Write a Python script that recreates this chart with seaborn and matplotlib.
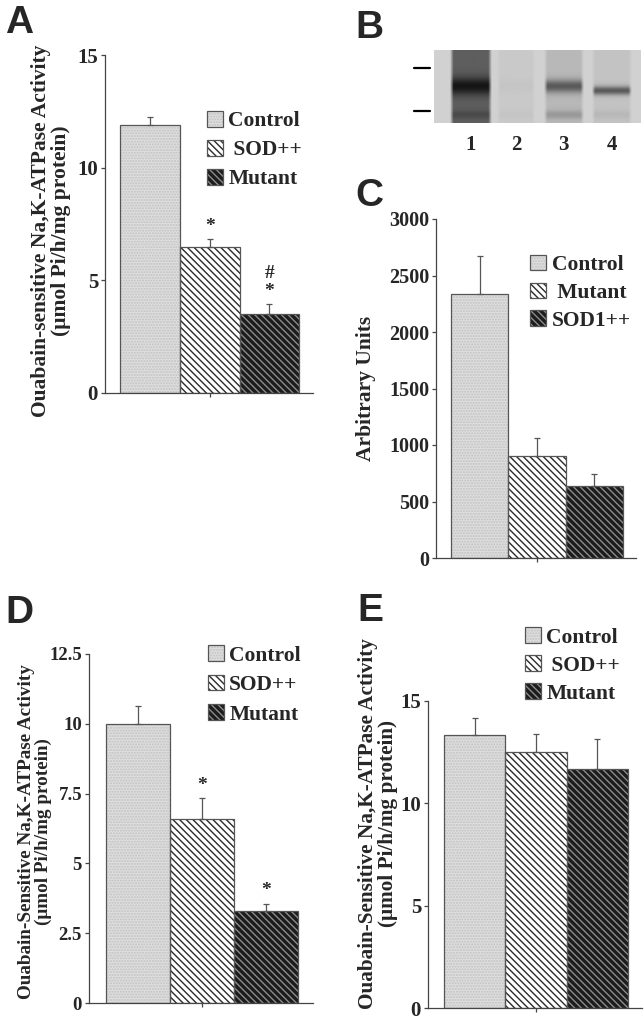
import numpy as np
import pandas as pd
import matplotlib
matplotlib.use('Agg')
import matplotlib.pyplot as plt
import seaborn as sns
from matplotlib.patches import Patch, Rectangle

# Panel A: Na,K-ATPase activity
a_groups = ['Control', ' SOD++', 'Mutant']
a_means = [11.9, 6.47, 3.49]
a_sem = [0.35, 0.35, 0.45]
a_marks = ['', '*', '#\n*']
a_ticks = [0, 5, 10, 15]

# Panel C: arbitrary units
c_groups = ['Control', ' Mutant', 'SOD1++']
c_means = [2336, 905, 637]
c_sem = [340, 160, 106]
c_ticks = [0, 500, 1000, 1500, 2000, 2500, 3000]

# Panel D
d_groups = ['Control', 'SOD++', 'Mutant']
d_means = [10.0, 6.6, 3.3]
d_sem = [0.65, 0.75, 0.26]
d_marks = ['', '*', '*']
d_ticks = [0, 2.5, 5, 7.5, 10, 12.5]
d_ticklabels = ['0', '2.5', '5', '7.5', '10', '12.5']

# Panel E
e_groups = ['Control', ' SOD++', 'Mutant']
e_means = [13.36, 12.51, 11.7]
e_sem = [0.83, 0.89, 1.46]
e_ticks = [0, 5, 10, 15]

# Panel B: western blot lanes (darkness 0..1)
lane_labels = ['1', '2', '3', '4']
band_upper = [0.35, 0.02, 0.45, 0.5]
band_lower = [0.1, 0.02, 0.15, 0.05]
lane_smear = [0.55, 0.04, 0.12, 0.07]

ylab_a = 'Ouabain-sensitive Na,K-ATPase Activity\n(\u03bcmol Pi/h/mg protein)'
ylab_de = 'Ouabain-Sensitive Na,K-ATPase Activity\n(\u03bcmol Pi/h/mg protein)'

sns.set_style('ticks')
plt.rcParams['font.family'] = ['Liberation Serif', 'DejaVu Serif']
plt.rcParams['font.weight'] = 'bold'
plt.rcParams['hatch.linewidth'] = 1.0

# face, hatch, hatch colour for bar positions 1..3
styles = [('#dedede', '......', '#c2c2c2'),
          ('white', '\\\\\\\\\\', '#2a2a2a'),
          ('#1c1c1c', '\\\\\\\\\\', '#8c8c8c')]
edge = '#555555'

fig = plt.figure(figsize=(6.44, 10.19), dpi=100)


def bar_panel(ax, groups, means, sem, ticks, ylabel, lab_xy, leg_xy, fs=15.5, tfs=15,
              ticklabels=None, marks=None, lsp=0.35):
    df = pd.DataFrame({'group': groups, 'mean': means})
    sns.barplot(data=df, x='group', y='mean', order=groups, width=1, color='white',
                errorbar=None, ax=ax, zorder=2)
    for p, (fc, h, hc) in zip(ax.patches[:len(groups)], styles):
        p.set_facecolor(fc)
        p.set_hatch(h)
        p.set_edgecolor(hc)
        p.set_linewidth(0)
        ax.add_patch(Rectangle(p.get_xy(), p.get_width(), p.get_height(), fill=False,
                               edgecolor=edge, lw=0.9, zorder=3))
    n = len(groups)
    ax.errorbar(np.arange(n), means, yerr=[np.zeros(n), sem], fmt='none', ecolor=edge,
                elinewidth=0.9, capsize=2, capthick=0.9, zorder=4)
    if marks:
        for i, m in enumerate(marks):
            if m:
                ax.annotate(m, (i, means[i] + sem[i]), xytext=(0, 3), textcoords='offset points',
                            ha='center', va='bottom', fontsize=14, linespacing=1.1)
    ax.set_ylim(0, ticks[-1])
    ax.set_xlim(-0.76, 2.73)
    ax.set_yticks(ticks)
    if ticklabels is not None:
        ax.set_yticklabels(ticklabels)
    ax.set_xticks([1])
    ax.set_xticklabels([''])
    ax.set_xlabel('')
    ax.set_ylabel(ylabel, fontsize=fs, fontweight='bold', linespacing=1.0)
    ax.yaxis.set_label_coords(*lab_xy)
    ax.tick_params(axis='both', length=3, width=0.9, color='#444', labelsize=tfs, pad=2)
    for s in ['left', 'bottom']:
        ax.spines[s].set_color('#444')
        ax.spines[s].set_linewidth(0.9)
    sns.despine(ax=ax)
    handles = [(Patch(facecolor=fc, hatch=h, edgecolor=hc, lw=0),
                Patch(fill=False, edgecolor=edge, lw=0.9)) for fc, h, hc in styles]
    ax.legend(handles, groups, loc='upper left', bbox_to_anchor=leg_xy, frameon=False,
              prop={'size': 15.5, 'weight': 'bold'}, handlelength=0.75, handleheight=0.75,
              handletextpad=0.25, labelspacing=lsp, borderpad=0, borderaxespad=0)


W, H = 644, 1019


def rect(x0, y0, x1, y1):
    return [x0 / W, 1 - y1 / H, (x1 - x0) / W, (y1 - y0) / H]


ax_a = fig.add_axes(rect(105, 55, 313, 393))
bar_panel(ax_a, a_groups, a_means, a_sem, a_ticks, ylab_a, (-0.165, 0.48), (0.49, 0.835),
          marks=a_marks, lsp=0.4)

ax_c = fig.add_axes(rect(436, 219, 636, 558))
bar_panel(ax_c, c_groups, c_means, c_sem, c_ticks, 'Arbitrary Units', (-0.3, 0.5), (0.47, 0.895),
          tfs=14.5)

ax_d = fig.add_axes(rect(89, 654, 313, 1003))
bar_panel(ax_d, d_groups, d_means, d_sem, d_ticks, ylab_de, (-0.165, 0.49), (0.53, 1.025),
          fs=13.8, tfs=13.5, ticklabels=d_ticklabels, marks=d_marks, lsp=0.42)

ax_e = fig.add_axes(rect(428, 701, 642, 1008))
bar_panel(ax_e, e_groups, e_means, e_sem, e_ticks, ylab_de, (-0.14, 0.6), (0.453, 1.24),
          fs=15.3)

# Panel B: blot image built from lane intensities
ax_b = fig.add_axes(rect(403, 50, 641, 123))
bw, bh = 238, 73
lane_x = [42, 94, 149, 204]
lane_half = [24, 22, 23, 23]
band_row = [0.49, 0.49, 0.49, 0.55]
band_sig = [0.12, 0.08, 0.09, 0.06]
bg = 0.82
xx, yy = np.meshgrid(np.arange(bw), np.arange(bh) / bh)
img = np.full((bh, bw), bg)
for i in range(len(lane_labels)):
    mask = np.clip((lane_half[i] - np.abs(xx - lane_x[i])) / 4, 0, 1)
    dark = (lane_smear[i]
            + band_upper[i] * np.exp(-((yy - band_row[i]) / band_sig[i]) ** 2)
            + band_lower[i] * np.exp(-((yy - 0.88) / 0.06) ** 2))
    img -= bg * np.clip(dark, 0, 0.9) * mask
ax_b.imshow(img, cmap='gray', vmin=0, vmax=1, aspect='auto', extent=(0, bw, bh, 0),
            interpolation='bilinear')
ax_b.set_xticks(lane_x)
ax_b.set_xticklabels(lane_labels, fontsize=15)
ax_b.tick_params(axis='x', length=0, pad=9)
ax_b.set_yticks([])
for s in ax_b.spines.values():
    s.set_visible(False)
for r in [18, 61]:
    ax_b.plot([-23, -5], [r, r], color='black', lw=1.6, clip_on=False)

# panel letters
for letter, (px, py) in zip('ABCDE', [(5, 5), (355, 10), (355, 178), (5, 595), (357, 593)]):
    fig.text(px / W, 1 - py / H, letter, fontsize=28, fontweight='bold',
             family='Liberation Sans', va='top', ha='left')

fig.savefig('out.png', dpi=100)
